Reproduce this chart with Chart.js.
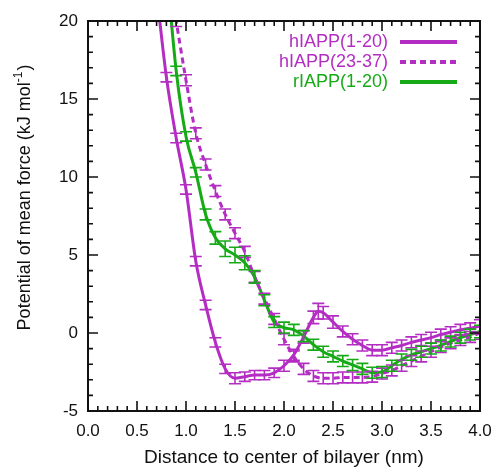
<!DOCTYPE html>
<html>
<head>
<meta charset="utf-8">
<script src="https://cdn.jsdelivr.net/npm/chart.js@4"></script>
<style>
  html, body { margin: 0; padding: 0; background: #fff; }
  #wrap { width: 494px; height: 469px; }
</style>
</head>
<body>
<div id="wrap"><canvas id="pmf" width="494" height="469"></canvas></div>
<script>
// hIAPP(1-20), solid magenta
const xA = [0.7, 0.8, 0.9, 1.0, 1.1, 1.2, 1.3, 1.4, 1.5, 1.6, 1.7, 1.8, 1.9, 2.0, 2.1, 2.2, 2.3, 2.35, 2.4, 2.5, 2.6, 2.7, 2.8, 2.9, 3.0, 3.1, 3.2, 3.3, 3.4, 3.5, 3.6, 3.7, 3.8, 3.9, 4.0];
const yA = [21.8, 16.4, 12.5, 9.2, 4.6, 1.8, -0.6, -2.3, -2.9, -2.8, -2.7, -2.7, -2.55, -2.1, -1.4, -0.25, 1.0, 1.4, 1.3, 0.7, 0.1, -0.4, -0.8, -1.1, -1.1, -0.95, -0.8, -0.6, -0.45, -0.3, -0.1, 0.05, 0.2, 0.3, 0.45];
const eA = [0.3, 0.3, 0.3, 0.3, 0.3, 0.3, 0.3, 0.3, 0.35, 0.3, 0.3, 0.3, 0.3, 0.35, 0.35, 0.4, 0.4, 0.5, 0.4, 0.4, 0.35, 0.35, 0.35, 0.35, 0.35, 0.35, 0.35, 0.35, 0.35, 0.35, 0.35, 0.35, 0.35, 0.35, 0.4];

// hIAPP(23-37), dashed magenta
const xB = [0.8, 0.9, 1.0, 1.1, 1.2, 1.3, 1.4, 1.5, 1.6, 1.7, 1.8, 1.9, 2.0, 2.1, 2.2, 2.3, 2.4, 2.5, 2.6, 2.7, 2.8, 2.9, 3.0, 3.1, 3.2, 3.3, 3.4, 3.5, 3.6, 3.7, 3.8, 3.9, 4.0];
const yB = [24.0, 20.0, 16.2, 12.8, 10.8, 9.1, 7.6, 6.4, 5.2, 3.6, 2.2, 0.9, -0.4, -1.5, -2.3, -2.75, -2.9, -2.9, -2.85, -2.85, -2.85, -2.8, -2.6, -2.4, -2.1, -1.8, -1.5, -1.2, -0.9, -0.65, -0.45, -0.25, 0.0];
const eB = [0.35, 0.35, 0.35, 0.35, 0.35, 0.35, 0.35, 0.35, 0.35, 0.35, 0.35, 0.35, 0.35, 0.35, 0.35, 0.35, 0.35, 0.35, 0.35, 0.35, 0.35, 0.35, 0.35, 0.35, 0.35, 0.35, 0.35, 0.35, 0.35, 0.35, 0.35, 0.35, 0.4];

// rIAPP(1-20), solid green
const xC = [0.8, 0.9, 1.0, 1.1, 1.2, 1.3, 1.4, 1.5, 1.6, 1.7, 1.8, 1.9, 2.0, 2.1, 2.2, 2.3, 2.4, 2.5, 2.6, 2.7, 2.8, 2.9, 3.0, 3.1, 3.2, 3.3, 3.4, 3.5, 3.6, 3.7, 3.8, 3.9, 4.0];
const yC = [23.5, 16.8, 12.6, 10.3, 7.6, 6.1, 5.4, 5.0, 4.5, 3.6, 2.1, 0.7, 0.35, 0.2, -0.2, -0.75, -1.2, -1.5, -1.8, -2.05, -2.3, -2.55, -2.5, -2.1, -1.7, -1.4, -1.2, -1.0, -0.8, -0.55, -0.3, -0.1, 0.1];
const eC = [0.3, 0.3, 0.3, 0.3, 0.35, 0.4, 0.5, 0.5, 0.45, 0.4, 0.35, 0.35, 0.35, 0.35, 0.35, 0.35, 0.35, 0.35, 0.35, 0.35, 0.35, 0.35, 0.35, 0.35, 0.35, 0.35, 0.35, 0.35, 0.35, 0.35, 0.35, 0.35, 0.4];

const labels = ['hIAPP(1-20)', 'hIAPP(23-37)', 'rIAPP(1-20)'];
const xTitle = 'Distance to center of bilayer (nm)';
const yTitle = 'Potential of mean force (kJ mol';

const magenta = 'rgb(180, 45, 195)';
const green = 'rgb(22, 170, 22)';

function pts(xs, ys) {
  return xs.map((x, i) => ({ x: x, y: ys[i] }));
}

// error bars, drawn through the scales
const errorBars = {
  id: 'errorBars',
  afterDatasetsDraw(chart) {
    const ctx = chart.ctx;
    const a = chart.chartArea;
    const xs = chart.scales.x, ys = chart.scales.y;
    ctx.save();
    ctx.beginPath();
    ctx.rect(a.left, a.top, a.right - a.left, a.bottom - a.top);
    ctx.clip();
    chart.data.datasets.forEach(ds => {
      ctx.strokeStyle = ds.borderColor;
      ctx.lineWidth = 1.6;
      ctx.setLineDash([]);
      ds.data.forEach((p, i) => {
        const e = ds.errors[i];
        if (e == null) return;
        const px = xs.getPixelForValue(p.x);
        const y1 = ys.getPixelForValue(p.y - e);
        const y2 = ys.getPixelForValue(p.y + e);
        ctx.beginPath();
        ctx.moveTo(px, y1); ctx.lineTo(px, y2);
        ctx.moveTo(px - 6, y1); ctx.lineTo(px + 6, y1);
        ctx.moveTo(px - 6, y2); ctx.lineTo(px + 6, y2);
        ctx.stroke();
      });
    });
    ctx.restore();
  }
};

// frame with inward ticks, legend and y title
const frame = {
  id: 'frame',
  afterDraw(chart) {
    const ctx = chart.ctx;
    const a = chart.chartArea;
    const xs = chart.scales.x, ys = chart.scales.y;
    ctx.save();
    ctx.strokeStyle = '#111';
    ctx.lineWidth = 2;
    ctx.strokeRect(a.left, a.top, a.right - a.left, a.bottom - a.top);
    ctx.lineWidth = 1.6;
    ctx.beginPath();
    for (let k = 0; k <= 40; k++) {
      const v = k / 10;
      const px = xs.getPixelForValue(v);
      const len = k % 5 === 0 ? 10 : 5;
      ctx.moveTo(px, a.bottom); ctx.lineTo(px, a.bottom - len);
      ctx.moveTo(px, a.top); ctx.lineTo(px, a.top + len);
    }
    for (let v = -5; v <= 20; v++) {
      const py = ys.getPixelForValue(v);
      const len = v % 5 === 0 ? 10 : 5;
      ctx.moveTo(a.left, py); ctx.lineTo(a.left + len, py);
      ctx.moveTo(a.right, py); ctx.lineTo(a.right - len, py);
    }
    ctx.stroke();

    // legend
    ctx.font = '18px "Liberation Sans", Arial, sans-serif';
    ctx.textAlign = 'right';
    ctx.textBaseline = 'middle';
    chart.data.datasets.forEach((ds, i) => {
      const ly = a.top + 21 + i * 20;
      ctx.fillStyle = ds.borderColor;
      ctx.fillText(ds.label, a.left + 300, ly);
      ctx.strokeStyle = ds.borderColor;
      ctx.lineWidth = 4;
      ctx.setLineDash(ds.borderDash || []);
      ctx.beginPath();
      ctx.moveTo(a.left + 312, ly);
      ctx.lineTo(a.left + 369, ly);
      ctx.stroke();
    });
    ctx.setLineDash([]);

    // y title with superscript
    ctx.fillStyle = '#111';
    ctx.translate(25, 198);
    ctx.rotate(-Math.PI / 2);
    const big = '18px "Liberation Sans", Arial, sans-serif';
    const small = '12px "Liberation Sans", Arial, sans-serif';
    ctx.font = big;
    const w1 = ctx.measureText(yTitle).width;
    ctx.font = small;
    const w2 = ctx.measureText('-1').width;
    ctx.font = big;
    const w3 = ctx.measureText(')').width;
    const start = -(w1 + w2 + w3) / 2;
    ctx.textAlign = 'left';
    ctx.textBaseline = 'middle';
    ctx.fillText(yTitle, start, 0);
    ctx.font = small;
    ctx.fillText('-1', start + w1, -6);
    ctx.font = big;
    ctx.fillText(')', start + w1 + w2 + 1, 0);
    ctx.restore();
  }
};

new Chart(document.getElementById('pmf'), {
  type: 'line',
  data: {
    datasets: [
      { label: labels[0], data: pts(xA, yA), errors: eA, borderColor: magenta, borderWidth: 3 },
      { label: labels[1], data: pts(xB, yB), errors: eB, borderColor: magenta, borderWidth: 3, borderDash: [6, 4] },
      { label: labels[2], data: pts(xC, yC), errors: eC, borderColor: green, borderWidth: 3 }
    ]
  },
  options: {
    responsive: false,
    animation: false,
    layout: { padding: { top: 21, right: 14, left: 0, bottom: 0 } },
    elements: {
      point: { radius: 0 },
      line: { cubicInterpolationMode: 'monotone', fill: false }
    },
    plugins: {
      legend: { display: false },
      tooltip: { enabled: false }
    },
    scales: {
      x: {
        type: 'linear',
        min: 0, max: 4,
        grid: { display: false, drawTicks: false },
        border: { display: false },
        ticks: {
          stepSize: 0.5,
          padding: 10,
          color: '#111',
          font: { size: 17, family: '"Liberation Sans", Arial, sans-serif' },
          callback: v => v.toFixed(1)
        },
        title: {
          display: true,
          text: xTitle,
          color: '#111',
          padding: { top: 4, bottom: 0 },
          font: { size: 19, family: '"Liberation Sans", Arial, sans-serif' }
        },
        afterFit: s => { s.height = 58; s.paddingLeft = 0; s.paddingRight = 0; }
      },
      y: {
        type: 'linear',
        min: -5, max: 20,
        grid: { display: false, drawTicks: false },
        border: { display: false },
        ticks: {
          stepSize: 5,
          padding: 10,
          color: '#111',
          font: { size: 17, family: '"Liberation Sans", Arial, sans-serif' }
        },
        afterFit: s => { s.width = 88; s.paddingTop = 0; s.paddingBottom = 0; }
      }
    }
  },
  plugins: [errorBars, frame]
});
</script>
</body>
</html>
